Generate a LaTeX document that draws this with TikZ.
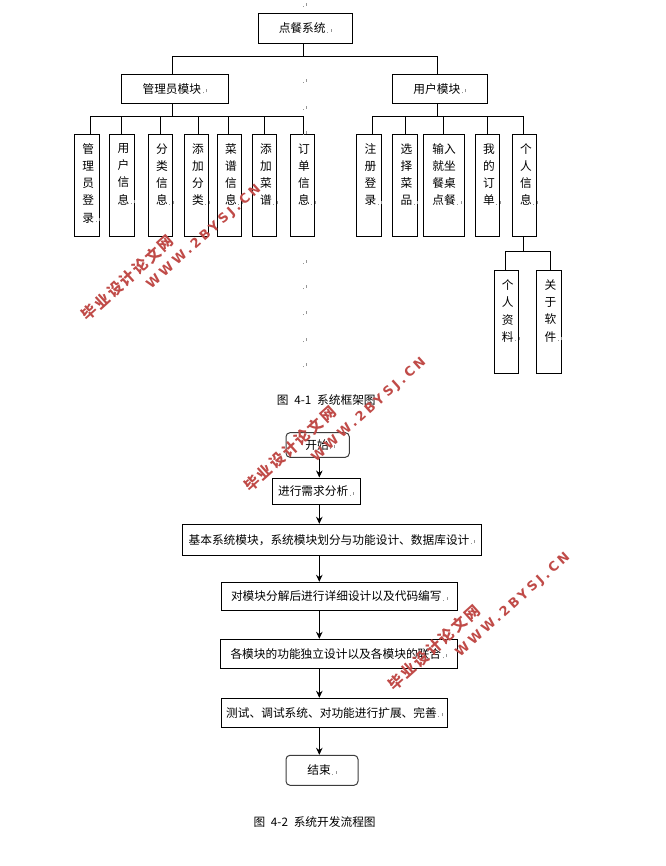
\documentclass[tikz,border=0pt]{standalone}
\usepackage{fontspec}
\setmainfont[WordSpace=2.2]{Noto Sans CJK SC}
\newfontfamily\wmcnfont[LetterSpace=14]{Noto Sans CJK SC}
\newfontfamily\wmenfont[LetterSpace=24]{DejaVu Sans}
\usetikzlibrary{arrows.meta}
\definecolor{dfline}{RGB}{0,0,0}
\definecolor{dfround}{RGB}{60,60,60}
\definecolor{dfmark}{RGB}{150,150,150}
\definecolor{dfwater}{RGB}{192,75,72}
\newcommand{\parmark}{\textcolor{dfmark}{\hspace{1.5pt}\rule{1pt}{1pt}\hspace{2.5pt}\rule[1pt]{1pt}{3pt}}}
\newcommand{\leaftext}[2][3pt]{\parbox[c][100pt][t]{24pt}{\centering\advance\leftskip by #1\baselineskip=17.1pt\vspace*{8pt}#2\rlap{\parmark}}}
\tikzstyle{plainbox} = [rectangle, draw=dfline, line width=1pt, inner sep=0pt, font=\fontsize{11.7}{14}\selectfont, text centered]
\tikzstyle{leafbox} = [plainbox, minimum height=102.5pt]
\tikzstyle{roundbox} = [plainbox, draw=dfround, rounded corners=4pt]
\tikzstyle{link} = [line width=1pt, color=dfline]
\tikzstyle{arrow} = [line width=1pt,-{Stealth[length=7pt,width=6.5pt]},color=dfline]
\tikzstyle{caption} = [anchor=west, inner sep=0pt, font=\fontsize{11.7}{14}\selectfont]
\tikzstyle{wmcn} = [rotate=42, inner sep=0pt, text=dfwater, font=\wmcnfont\bfseries\fontsize{15}{15}\selectfont]
\tikzstyle{wmen} = [rotate=42, inner sep=0pt, text=dfwater, font=\wmenfont\bfseries\fontsize{13}{13}\selectfont]
\begin{document}
\begin{tikzpicture}[x=1pt,y=-1pt]
\useasboundingbox (0,0) rectangle (665,866);
% Frame chart - top levels
\node (top) [plainbox, minimum width=94.3pt, minimum height=30pt] at (305.15,28.5) {点餐系统\parmark};
\node (admin) [plainbox, minimum width=107pt, minimum height=29pt] at (174.8,89) {管理员模块\parmark};
\node (user) [plainbox, minimum width=95pt, minimum height=29pt] at (439.8,89) {用户模块\parmark};

% Admin leaves
\node (a1) [leafbox, minimum width=25pt] at (86.8,185.75) {\leaftext{管\\理\\员\\登\\录}};
\node (a2) [leafbox, minimum width=25.4pt] at (122,185.75) {\leaftext{用\\户\\信\\息}};
\node (a3) [leafbox, minimum width=24.4pt] at (160.5,185.75) {\leaftext{分\\类\\信\\息}};
\node (a4) [leafbox, minimum width=24.4pt] at (196.5,185.75) {\leaftext{添\\加\\分\\类}};
\node (a5) [leafbox, minimum width=24.4pt] at (229.5,185.75) {\leaftext{菜\\谱\\信\\息}};
\node (a6) [leafbox, minimum width=24.4pt] at (264.5,185.75) {\leaftext{添\\加\\菜\\谱}};
\node (a7) [leafbox, minimum width=24.4pt] at (302.5,185.75) {\leaftext{订\\单\\信\\息}};

% User leaves
\node (u1) [leafbox, minimum width=25.4pt] at (369,185.75) {\leaftext{注\\册\\登\\录}};
\node (u2) [leafbox, minimum width=25.4pt] at (405,185.75) {\leaftext{选\\择\\菜\\品}};
\node (u3) [leafbox, minimum width=41.4pt] at (444,185.75) {\leaftext[0pt]{输入\\就坐\\餐桌\\点餐}};
\node (u4) [leafbox, minimum width=24.4pt] at (487.5,185.75) {\leaftext{我\\的\\订\\单}};
\node (u5) [leafbox, minimum width=24.4pt] at (524.5,185.75) {\leaftext{个\\人\\信\\息}};
\node (p1) [leafbox, minimum width=24pt] at (506.3,322) {\leaftext{个\\人\\资\\料}};
\node (p2) [leafbox, minimum width=24.6pt] at (549,322) {\leaftext{关\\于\\软\\件}};

% Bus lines
\coordinate (topbus) at (303.7,56.5);
\coordinate (adminbus) at (172.3,116.5);
\coordinate (userbus) at (437.3,116.5);
\coordinate (selfbus) at (523.3,251.7);
\draw[link] (topbus |- top.south) -- (topbus);
\draw[link] ([xshift=-2.5pt]admin.north) |- (topbus);
\draw[link] ([xshift=-2.5pt]user.north) |- (topbus);
\draw[link] (adminbus |- admin.south) -- (adminbus);
\draw[link] (userbus |- user.south) -- (userbus);
\draw[link] (selfbus |- u5.south) -- (selfbus);
\draw[link] ([xshift=3.9pt]a1.north) |- (adminbus);
\draw[link] ([xshift=-0.7pt]a2.north) |- (adminbus);
\draw[link] ([xshift=-0.2pt]a3.north) |- (adminbus);
\draw[link] ([xshift=1.8pt]a4.north) |- (adminbus);
\draw[link] ([xshift=-1.2pt]a5.north) |- (adminbus);
\draw[link] ([xshift=-0.2pt]a6.north) |- (adminbus);
\draw[link] ([xshift=0.8pt]a7.north) |- (adminbus);
\draw[link] ([xshift=3.3pt]u1.north) |- (userbus);
\draw[link] ([xshift=0.3pt]u2.north) |- (userbus);
\draw[link] ([xshift=-0.7pt]u3.north) |- (userbus);
\draw[link] ([xshift=-0.2pt]u4.north) |- (userbus);
\draw[link] ([xshift=-1.2pt]u5.north) |- (userbus);
\draw[link] ([xshift=-1pt]p1.north) |- (selfbus);
\draw[link] ([xshift=1.7pt]p2.north) |- (selfbus);

% Stray paragraph marks
\foreach \my [count=\i] in {5,81,108,133,262,287,313,340,365}
  \node (mk\i) [inner sep=0pt] at (304,\my) {\parmark};

\node (cap1) [caption] at (276.7,400.5) {图 4-1 系统框架图};

% Flow chart
\node (fstart) [roundbox, minimum width=63.3pt, minimum height=24.6pt] at (317.65,445) {\hspace{5pt}开始\parmark};
\node (freq) [plainbox, minimum width=87.7pt, minimum height=26.7pt] at (316.15,491.35) {进行需求分析\parmark};
\node (fbasic) [plainbox, minimum width=299.4pt, minimum height=31pt] at (332,539.8) {基本系统模块，系统模块划分与功能设计、数据库设计\parmark};
\node (fdetail) [plainbox, minimum width=236pt, minimum height=28pt] at (339.3,596.3) {对模块分解后进行详细设计以及代码编写\parmark\hspace{3pt}};
\node (findep) [plainbox, minimum width=237pt, minimum height=29pt] at (338.8,653.8) {各模块的功能独立设计以及各模块的联合\parmark\hspace{3pt}};
\node (ftest) [plainbox, minimum width=226.4pt, minimum height=29pt] at (334.5,712.8) {测试、调试系统、对功能进行扩展、完善\parmark};
\node (fend) [roundbox, minimum width=72pt, minimum height=30pt] at (322,770.3) {结束\parmark};

% Arrows
\coordinate (flowx) at (319.3,0);
\draw[arrow] (flowx |- fstart.south) -- (flowx |- freq.north);
\draw[arrow] (flowx |- freq.south) -- (flowx |- fbasic.north);
\draw[arrow] (flowx |- fbasic.south) -- (flowx |- fdetail.north);
\draw[arrow] (flowx |- fdetail.south) -- (flowx |- findep.north);
\draw[arrow] (flowx |- findep.south) -- (flowx |- ftest.north);
\draw[arrow] (flowx |- ftest.south) -- (flowx |- fend.north);

\node (cap2) [caption] at (253.3,821.7) {图 4-2 系统开发流程图};

% Watermarks
\node (wa1) [wmcn] at (127.5,278) {毕业设计论文网};
\node (wa2) [wmen] at (204,237) {WWW.2BYSJ.CN};
\node (wb1) [wmcn] at (290,449) {毕业设计论文网};
\node (wb2) [wmen] at (369,410) {WWW.2BYSJ.CN};
\node (wc1) [wmcn] at (434,647.5) {毕业设计论文网};
\node (wc2) [wmen] at (513,605) {WWW.2BYSJ.CN};
\end{tikzpicture}
\end{document}
